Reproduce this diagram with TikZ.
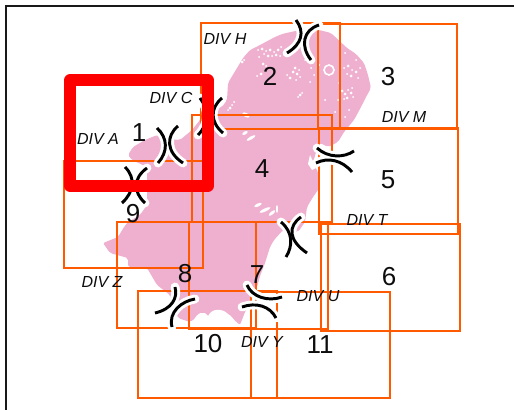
\documentclass[tikz,border=0pt]{standalone}
\usepackage{fontspec}
\setmainfont{Liberation Sans}
\definecolor{isle}{HTML}{EFB0CF}
\definecolor{divline}{HTML}{FF5A00}
\tikzset{
  x=0.75pt,y=-0.75pt,
  frameline/.style={line width=1.9pt,draw=black!90},
  divbox/.style={draw=divline,line width=1.9pt},
  redbox/.style={draw=red,line width=8.4pt,line join=round},
  halo/.style={draw=white,line width=6.6pt,line cap=round},
  breakmark/.style={draw=black,line width=2.2pt},
  num/.style={font=\fontsize{19.5}{20}\selectfont,inner sep=0pt,text=black!95},
  divlab/.style={font=\fontsize{12}{13}\selectfont\itshape,inner sep=0pt,text=black!95},
  speck/.style={fill=white,draw=none},
}
\newcommand{\breakpair}[2]{%
  \draw[halo] #1; \draw[halo] #2;
  \draw[breakmark] #1; \draw[breakmark] #2;}
\begin{document}
\begin{tikzpicture}
\useasboundingbox (0,0) rectangle (514,410);
\fill[white] (0,0) rectangle (514,410);
% frame
\draw[frameline] (514,6) -- (6,6) -- (6,410);
% island
\fill[isle,rounded corners=1.5pt] (319,30) -- (331,33) -- (347,48) -- (356,54) -- (364,63) -- (368,75) -- (371,88) -- (366,97) -- (361,107) -- (354,120) -- (344,132)
 -- (338,142) -- (328,147) -- (320,143) -- (316,152) -- (313,163) -- (318,172) -- (320,187) -- (313,197) -- (307,207) -- (305,222) -- (298,232) -- (283,230) -- (274,240) -- (270,247) -- (265,263) -- (260,276) -- (257,287)
 -- (250,302) -- (245,312) -- (240,325) -- (232,318) -- (228,315) -- (222,312) -- (213,312) -- (208,317) -- (200,315) -- (190,322) -- (178,318) -- (170,295) -- (157,285) -- (150,273) -- (147,268) -- (128,267) -- (128,258) -- (110,253) -- (103,243) -- (118,237) -- (124,227) -- (128,222) -- (140,215) -- (147,205) -- (147,167)
 -- (132,160) -- (128,155) -- (133,147) -- (145,140) -- (157,135) -- (170,139) -- (180,140) -- (192,130) -- (200,120) -- (203,113) -- (222,107) -- (227,100) -- (228,83) -- (237,68) -- (243,58) -- (250,50) -- (260,45) -- (275,37) -- (282,34) -- (300,30) -- cycle;
% white specks in the northern part
\foreach \px/\py/\rr in {
 242/62/1.5, 244/60/1, 258/50/1, 262/49/1.5, 266/51/1, 270/50/1.5, 274/52/1, 278/50/1.5, 281/47/1, 264/54/1, 268/56/1.5, 272/56/1, 276/55/1.5, 280/56/1, 259/57/1, 257/76/1, 261/74/1.5, 263/64/1.5, 266/66/1,
 290/78/1.5, 287/75/1, 293/72/1.5, 295/68/1.5, 297/74/1.5, 299/70/1, 300/77/1, 296/80/1, 300/95/1.5, 302/93/1, 298/97/1, 230/108/1.5, 232/105/1, 234/102/1, 228/110/1,
 319/65/1, 345/53/1, 340/54/1, 344/68/1, 348/66/1.5, 352/70/1, 356/72/1.5, 347/74/1, 351/76/1.5, 358/78/1, 360/68/1, 342/91/1.5, 345/94/1.5, 348/90/1, 351/93/1.5, 353/97/1, 347/98/1.5, 344/99/1, 352/88/1, 339/83/1, 338/100/1, 345/117/1, 325/100/1, 335/112/1, 349/110/1, 356/60/1, 311/68/1, 314/75/1, 310/82/1, 305/60/1}
 {\fill[speck] (\px,\py) circle [radius=\rr];}
\draw[white,line width=1.2pt] (329,70) circle [radius=5];
% white inlets
\foreach \px/\py/\ra/\rb/\an in {
 245/133/3/1.5/30, 251/138/5/1.5/30, 258/205/4/1.5/25, 265/210/6/1.5/25, 272/213/4/1.5/40, 277/209/1/4/0, 246/115/4/2/-30}
 {\fill[speck,rotate around={\an:(\px,\py)}] (\px,\py) ellipse [x radius=\ra,y radius=\rb];}
% coastal white bays
\fill[white] (193,322) .. controls (197,312) and (204,310) .. (208,316) .. controls (212,308) and (222,308) .. (228,314) .. controls (232,316) and (234,320) .. (238,326) -- (193,326) -- cycle;
\fill[white] (310,155) -- (308,164) -- (312,170) -- (316,168) -- cycle;
\fill[white] (268,262) .. controls (270,252) and (272,248) .. (277,247) .. controls (280,252) and (276,258) .. (272,258) -- cycle;
% divisions
\draw[divbox] (201,23) rectangle (340,129);
\draw[divbox] (318,24) rectangle (457,129);
\draw[divbox] (192,115) rectangle (332,222);
\draw[divbox] (319,128) rectangle (458,234);
\draw[divbox] (321,224) rectangle (460,331);
\draw[divbox] (64,161) rectangle (203,268);
\draw[divbox] (117,222) rectangle (256,328);
\draw[divbox] (189,222) rectangle (328,329);
\draw[divbox] (138,291) rectangle (277,398);
\draw[divbox] (251,292) rectangle (390,398);
% break marks
\breakpair{(157,128) .. controls (168,138) and (168,152) .. (158,163)}{(178,126) .. controls (166,136) and (166,152) .. (183,163)}
\breakpair{(200,98) .. controls (209,110) and (209,124) .. (198,135)}{(222,98) .. controls (210,108) and (210,122) .. (223,133)}
\breakpair{(125,167) .. controls (136,178) and (134,192) .. (122,203)}{(147,168) .. controls (133,178) and (133,192) .. (145,203)}
\breakpair{(296,20) .. controls (305,32) and (302,44) .. (287,53)}{(319,25) .. controls (303,30) and (300,46) .. (311,60)}
\breakpair{(317,148) .. controls (328,158) and (344,158) .. (354,151)}{(316,163) .. controls (328,157) and (342,160) .. (352,172)}
\breakpair{(281,222) .. controls (293,232) and (293,246) .. (286,257)}{(301,217) .. controls (288,226) and (288,240) .. (307,253)}
\breakpair{(175,287) .. controls (178,298) and (172,309) .. (155,313)}{(195,299) .. controls (182,301) and (168,312) .. (172,327)}
\breakpair{(247,285) .. controls (252,297) and (268,302) .. (282,297)}{(242,307) .. controls (256,302) and (270,306) .. (276,318)}
% highlighted division
\draw[redbox] (70,80) rectangle (208,186);
% labels
\node[num] (n1) at (139,133) {1};
\node[num] (n2) at (270,76) {2};
\node[num] (n3) at (388,77) {3};
\node[num] (n4) at (262,169) {4};
\node[num] (n5) at (388,180) {5};
\node[num] (n6) at (389,277) {6};
\node[num] (n7) at (257,275) {7};
\node[num] (n8) at (185,274) {8};
\node[num] (n9) at (133,214) {9};
\node[num] (n10) at (208,344) {10};
\node[num] (n11) at (320,345) {11};
\node[divlab] (dh) at (225,38.5) {DIV H};
\node[divlab] (dc) at (171,97.5) {DIV C};
\node[divlab] (da) at (98,138.5) {DIV A};
\node[divlab] (dm) at (404,117) {DIV M};
\node[divlab] (dt) at (367,220) {DIV T};
\node[divlab] (dz) at (102,282) {DIV Z};
\node[divlab] (du) at (318,296) {DIV U};
\node[divlab] (dy) at (262,342) {DIV Y};
\end{tikzpicture}
\end{document}
